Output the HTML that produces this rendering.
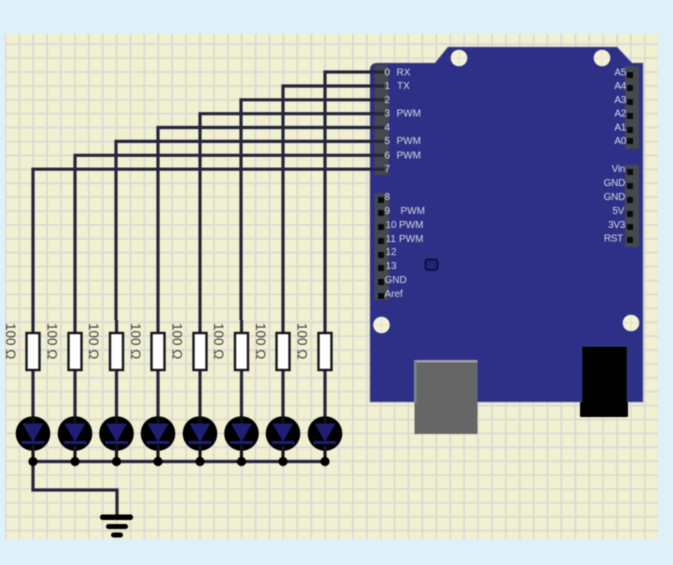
<!DOCTYPE html>
<html><head><meta charset="utf-8"><style>
html,body{margin:0;padding:0;background:#dff1f8}
svg{display:block;filter:blur(.6px)}
text{font-family:"Liberation Sans",sans-serif}
.l{font-size:10px;fill:#d6d7e4}
.r{font-size:10px;fill:#d6d7e4;text-anchor:end;letter-spacing:-.3px}
.o{font-size:13.500px;fill:#444}
</style></head><body>
<svg width="673" height="565" viewBox="0 0 673 565" xmlns="http://www.w3.org/2000/svg">
<defs>
<g id="hole"><circle r="8.300" fill="#f3f1d6"/><path d="M-8 0H8M0-8V8" stroke="#dfdcc8" stroke-width=".8"/></g>
<g id="unit">
<path d="M0 320V333M0 370V416" stroke="#24243c" stroke-width="3.200" fill="none"/>
<rect x="-6.500" y="333" width="13" height="37" fill="#fff" stroke="#14141e" stroke-width="2.400"/>
<circle cy="433.500" r="17.300" fill="#000"/>
<path d="M-10.500 423.500H10.500L0 442Z" fill="#1e1f72"/>
<rect x="-11.500" y="441" width="23" height="3" fill="#1e1f72"/>
<path d="M0 416V423" stroke="#111" stroke-width="3.200"/>
<path d="M0 445V461" stroke="#14141e" stroke-width="3.200"/>
<circle cy="461.500" r="4.600" fill="#000"/>
</g>
</defs>
<rect x="5" y="34" width="653" height="505" fill="#f1f0d0"/>
<line x1="5" y1="286.500" x2="658" y2="286.500" stroke="#dcdad2" stroke-width="505" stroke-dasharray="1.800 12.100" stroke-dashoffset=".5"/>
<line x1="331.500" y1="34" x2="331.500" y2="539" stroke="#dcdad2" stroke-width="653" stroke-dasharray="1.800 12.100" stroke-dashoffset="4.600"/>
<path d="M370 70Q370 63 378 63H435L448 47H617L632 63H643V402H370Z" fill="#2e3087" stroke="#7f80a8" stroke-width=".7"/>
<use href="#hole" x="459" y="58"/><use href="#hole" x="602" y="58"/>
<use href="#hole" x="381.500" y="325"/><use href="#hole" x="631" y="323"/>
<rect x="374.500" y="65" width="14" height="110" fill="#45484f"/>
<rect x="374.500" y="193" width="14" height="107" fill="#45484f"/>
<rect x="625" y="66" width="14" height="83" fill="#45484f"/>
<rect x="625" y="165" width="14" height="82" fill="#45484f"/>
<g fill="#0a0a0a">
<rect x="378" y="197" width="6" height="6"/><rect x="378" y="210" width="6" height="6"/><rect x="378" y="224" width="6" height="6"/><rect x="378" y="238" width="6" height="6"/><rect x="378" y="252" width="6" height="6"/><rect x="378" y="265" width="6" height="6"/><rect x="378" y="279" width="6" height="6"/><rect x="378" y="293" width="6" height="6"/>
<rect x="627" y="72" width="6" height="6"/><rect x="627" y="85" width="6" height="6"/><rect x="627" y="99" width="6" height="6"/><rect x="627" y="113" width="6" height="6"/><rect x="627" y="127" width="6" height="6"/><rect x="627" y="138" width="6" height="6"/>
<rect x="627" y="169" width="6" height="6"/><rect x="627" y="183" width="6" height="6"/><rect x="627" y="197" width="6" height="6"/><rect x="627" y="211" width="6" height="6"/><rect x="627" y="224" width="6" height="6"/><rect x="627" y="237" width="6" height="6"/>
</g>
<g fill="none" stroke="#24243c" stroke-width="3.200">
<path d="M325 320V72H384"/><path d="M283 320V86H384"/><path d="M241 320V99.800H384"/><path d="M200 320V113.700H384"/>
<path d="M158 320V127.500H384"/><path d="M116 320V141.400H384"/><path d="M75 320V155.300H384"/><path d="M33 320V169.200H384"/>
<path d="M33 461.500H325"/><path d="M33 461.500V490H117V516"/>
</g>
<use href="#unit" x="33"/><use href="#unit" x="75"/><use href="#unit" x="116.500"/><use href="#unit" x="158"/>
<use href="#unit" x="200"/><use href="#unit" x="241.500"/><use href="#unit" x="283"/><use href="#unit" x="325"/>
<g fill="#000"><rect x="100" y="514.500" width="33" height="5.500" rx="2.500"/><rect x="106" y="524" width="22" height="5" rx="2.500"/><rect x="111" y="532.500" width="12" height="5" rx="2.500"/></g>
<g>
<text class="o" transform="translate(6,323) rotate(90)">100 Ω</text><text class="o" transform="translate(47.500,323) rotate(90)">100 Ω</text>
<text class="o" transform="translate(89,323) rotate(90)">100 Ω</text><text class="o" transform="translate(131,323) rotate(90)">100 Ω</text>
<text class="o" transform="translate(172.500,323) rotate(90)">100 Ω</text><text class="o" transform="translate(214,323) rotate(90)">100 Ω</text>
<text class="o" transform="translate(256,323) rotate(90)">100 Ω</text><text class="o" transform="translate(297.500,323) rotate(90)">100 Ω</text>
</g>
<g>
<text class="l" x="384.500" y="75.500">0</text><text class="l" x="396.500" y="75.500">RX</text>
<text class="l" x="384.500" y="89">1</text><text class="l" x="397" y="89">TX</text>
<text class="l" x="384.500" y="103">2</text>
<text class="l" x="384.500" y="116.500">3</text><text class="l" x="396.500" y="116.500">PWM</text>
<text class="l" x="384.500" y="130.500">4</text>
<text class="l" x="384.500" y="144">5</text><text class="l" x="396.500" y="144">PWM</text>
<text class="l" x="384.500" y="158.500">6</text><text class="l" x="396.500" y="158.500">PWM</text>
<text class="l" x="384.500" y="172">7</text>
<text class="l" x="384.500" y="200">8</text>
<text class="l" x="384.500" y="214">9</text><text class="l" x="400.500" y="214">PWM</text>
<text class="l" x="385.500" y="228">10</text><text class="l" x="399" y="228">PWM</text>
<text class="l" x="385.500" y="242">11</text><text class="l" x="399" y="242">PWM</text>
<text class="l" x="385.500" y="255">12</text>
<text class="l" x="385.500" y="269">13</text>
<text class="l" x="384.500" y="283">GND</text>
<text class="l" x="384.500" y="297">Aref</text>
</g>
<g>
<text class="r" x="626" y="75.500">A5</text><text class="r" x="626" y="89">A4</text><text class="r" x="626" y="103">A3</text>
<text class="r" x="626" y="116.500">A2</text><text class="r" x="626" y="130.500">A1</text><text class="r" x="626" y="144">A0</text>
<text class="r" x="625" y="172">Vin</text><text class="r" x="625" y="186">GND</text><text class="r" x="625" y="200">GND</text>
<text class="r" x="624" y="214">5V</text><text class="r" x="625" y="228">3V3</text><text class="r" x="623" y="241.500">RST</text>
</g>
<rect x="425.500" y="259.500" width="12" height="10.500" rx="2.500" fill="#23257c" stroke="#0b0c30" stroke-width="1.800"/>
<rect x="414.500" y="360" width="63" height="74" fill="#666"/>
<rect x="414.500" y="360" width="63" height="2.500" fill="#a0a0a0"/>
<rect x="414" y="360" width="2.500" height="43" fill="#6f8c96"/>
<rect x="582" y="346.500" width="45" height="58" fill="#000" stroke="#124a50" stroke-width=".7"/>
<rect x="580" y="402" width="48" height="15" rx="1" fill="#000"/>
</svg>
</body></html>
